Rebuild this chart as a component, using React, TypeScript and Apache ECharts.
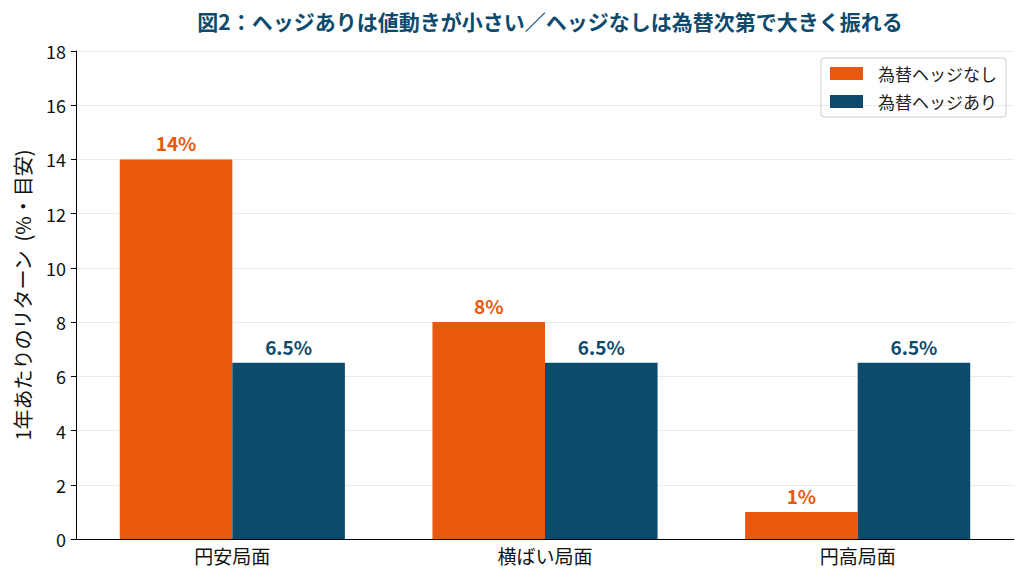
import React, { useEffect, useRef } from "react";
import * as echarts from "echarts";

const categories = ["円安局面", "横ばい局面", "円高局面"];
const unhedged = [14, 8, 1];
const hedged = [6.5, 6.5, 6.5];
const unhedgedLabels = ["14%", "8%", "1%"];
const hedgedLabels = ["6.5%", "6.5%", "6.5%"];

const ORANGE = "#e8590c";
const NAVY = "#0e4a6c";
const FONT = "'Noto Sans CJK JP', 'Noto Sans', sans-serif";

export default function App() {
  const ref = useRef<HTMLDivElement>(null);

  useEffect(() => {
    if (!ref.current) return;
    const chart = echarts.init(ref.current, undefined, { renderer: "svg" });
    chart.setOption({
      animation: false,
      backgroundColor: "#ffffff",
      textStyle: { fontFamily: FONT },
      title: {
        text: "図2：ヘッジありは値動きが小さい／ヘッジなしは為替次第で大きく振れる",
        left: 545,
        textAlign: "center",
        top: 5,
        textStyle: { color: NAVY, fontSize: 21, fontWeight: "bold", fontFamily: FONT },
      },
      legend: {
        right: 21,
        top: 58,
        orient: "vertical",
        itemWidth: 33,
        itemHeight: 13,
        itemGap: 11,
        padding: [7, 9, 7, 9],
        borderColor: "#cccccc",
        borderWidth: 1,
        borderRadius: 3,
        icon: "rect",
        textStyle: { fontSize: 17, color: "#222", fontFamily: FONT, padding: [0, 0, 0, 10] },
        data: ["為替ヘッジなし", "為替ヘッジあり"],
      },
      grid: { left: 76, right: 13, top: 51, bottom: 45, containLabel: false },
      xAxis: {
        type: "category",
        data: categories,
        axisLine: { lineStyle: { color: "#000", width: 1 } },
        axisTick: { alignWithLabel: true, length: 5, lineStyle: { color: "#000" } },
        axisLabel: { fontSize: 19, color: "#111", margin: 7, fontFamily: FONT },
      },
      yAxis: {
        type: "value",
        min: 0,
        max: 18,
        interval: 2,
        name: "1年あたりのリターン  (%・目安)",
        nameLocation: "middle",
        nameGap: 44,
        nameTextStyle: { fontSize: 20, color: "#111", fontFamily: FONT },
        axisLine: { show: true, lineStyle: { color: "#000", width: 1 } },
        axisTick: { show: true, length: 5, lineStyle: { color: "#000" } },
        axisLabel: { fontSize: 18, color: "#111", margin: 10, fontFamily: FONT },
        splitLine: { lineStyle: { color: "#ebebeb", width: 1 } },
      },
      series: [
        {
          name: "為替ヘッジなし",
          type: "bar",
          data: unhedged,
          barGap: "0%",
          barCategoryGap: "28%",
          itemStyle: { color: ORANGE },
          label: {
            show: true,
            position: "top",
            distance: 7,
            formatter: (p: any) => unhedgedLabels[p.dataIndex],
            color: ORANGE,
            fontSize: 19,
            fontWeight: "bold",
            fontFamily: FONT,
          },
        },
        {
          name: "為替ヘッジあり",
          type: "bar",
          data: hedged,
          barGap: "0%",
          barCategoryGap: "28%",
          itemStyle: { color: NAVY },
          label: {
            show: true,
            position: "top",
            distance: 7,
            formatter: (p: any) => hedgedLabels[p.dataIndex],
            color: NAVY,
            fontSize: 19,
            fontWeight: "bold",
            fontFamily: FONT,
          },
        },
      ],
    });
    return () => chart.dispose();
  }, []);

  return (
    <div
      ref={ref}
      style={{ position: "fixed", left: 0, top: 0, width: 1027, height: 584, background: "#fff" }}
    />
  );
}
